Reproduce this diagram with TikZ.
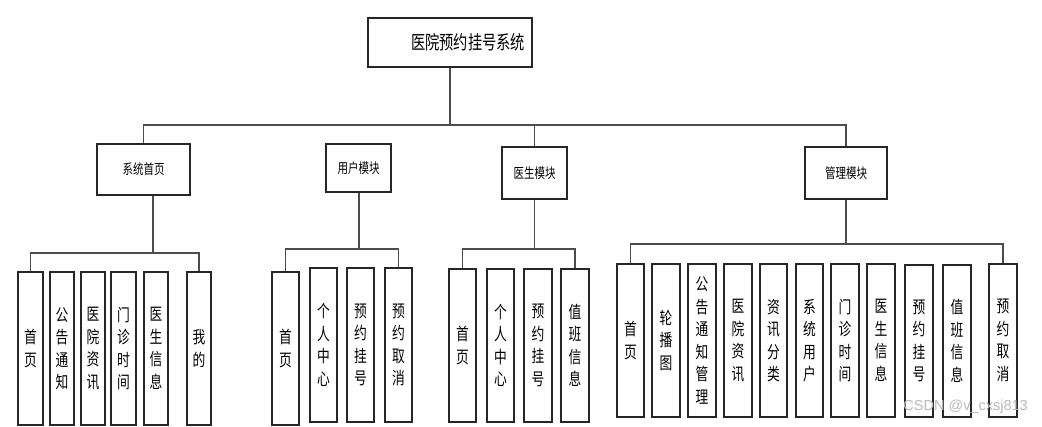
\documentclass[tikz,border=0pt]{standalone}
\usepackage{fontspec}
\setmainfont{Liberation Sans}
\newfontfamily\cjk[FakeStretch=0.75]{Noto Sans CJK SC}
\begin{document}
\begin{tikzpicture}[x=1pt,y=-1pt,
  box/.style={draw=black!85,line width=1.1pt,inner sep=0pt,fill=white},
  leaf/.style={box,minimum width=27pt,minimum height=153pt,align=center,font=\cjk\fontsize{17}{22.5}\selectfont},
  mid/.style={box,font=\cjk\fontsize{14}{16}\selectfont},
  conn/.style={draw=black!70,line width=1.1pt}]
\useasboundingbox (0,0) rectangle (1042,426);

% root
\node[box,minimum width=164pt,minimum height=49pt,text width=150pt,align=right,inner xsep=7pt,font=\cjk\fontsize{19}{21}\selectfont] (root) at (450,42.5) {医院预约挂号系统};

% level 2
\node[mid,minimum width=93pt,minimum height=51pt] (s1) at (143.5,169.5) {系统首页};
\node[mid,minimum width=65pt,minimum height=48pt] (s2) at (358.5,168) {用户模块};
\node[mid,minimum width=65pt,minimum height=52pt] (s3) at (534.5,173) {医生模块};
\node[mid,minimum width=82pt,minimum height=52pt] (s4) at (846,173) {管理模块};

% leaves of s1
\node[leaf,minimum width=25pt] (h1) at (30.5,348.5) {首\\页};
\node[leaf,minimum width=24pt] (h2) at (62,348.5) {公\\告\\通\\知};
\node[leaf,minimum width=24pt] (h3) at (93,348.5) {医\\院\\资\\讯};
\node[leaf,minimum width=25pt] (h4) at (123.5,348.5) {门\\诊\\时\\间};
\node[leaf,minimum width=24pt] (h5) at (156,348.5) {医\\生\\信\\息};
\node[leaf,minimum width=24pt] (h6) at (199,348.5) {我\\的};

% leaves of s2
\node[leaf] (u1) at (285.5,348.5) {首\\页};
\node[leaf,minimum height=154pt] (u2) at (323.5,345) {个\\人\\中\\心};
\node[leaf,minimum height=154pt] (u3) at (360.5,345) {预\\约\\挂\\号};
\node[leaf,minimum height=154pt] (u4) at (398.5,345) {预\\约\\取\\消};

% leaves of s3
\node[leaf] (d1) at (462.5,345.5) {首\\页};
\node[leaf] (d2) at (500.5,345.5) {个\\人\\中\\心};
\node[leaf,minimum width=28pt] (d3) at (538,345.5) {预\\约\\挂\\号};
\node[leaf,minimum width=28pt] (d4) at (575,345.5) {值\\班\\信\\息};

% leaves of s4
\node[leaf] (m1) at (630.5,340.5) {首\\页};
\node[leaf,minimum width=28pt] (m2) at (666,340.5) {轮\\播\\图};
\node[leaf,minimum width=28pt] (m3) at (702,340.5) {公\\告\\通\\知\\管\\理};
\node[leaf,minimum width=28pt] (m4) at (738,340.5) {医\\院\\资\\讯};
\node[leaf] (m5) at (773.5,340.5) {资\\讯\\分\\类};
\node[leaf] (m6) at (809.5,340.5) {系\\统\\用\\户};
\node[leaf,minimum width=28pt] (m7) at (845,340.5) {门\\诊\\时\\间};
\node[leaf,minimum width=28pt] (m8) at (881,340.5) {医\\生\\信\\息};
\node[leaf,minimum width=28pt,minimum height=152pt] (m9) at (919,341) {预\\约\\挂\\号};
\node[leaf,minimum width=28pt,minimum height=152pt] (m10) at (957,341) {值\\班\\信\\息};
\node[leaf,minimum width=28pt] (m11) at (1003,340.5) {预\\约\\取\\消};

% connectors top
\coordinate (bus) at (450,125);
\draw[conn] (root.south) -- (bus);
\draw[conn] (s1.north) |- (bus) -| (s4.north);
\draw[conn] (s3.north) -- (s3.north |- bus);

% connectors s1
\coordinate (b1) at (153,253);
\draw[conn] (s1.south -| b1) -- (b1);
\draw[conn] (h1.north) |- (b1) -| (h6.north);

% connectors s2
\coordinate (b2) at (359,249);
\draw[conn] (s2.south -| b2) -- (b2);
\draw[conn] (u1.north) |- (b2) -| (u4.north);

% connectors s3
\coordinate (b3) at (534.5,249);
\draw[conn] (s3.south) -- (b3);
\draw[conn] (d1.north) |- (b3) -| (d4.north);

% connectors s4
\coordinate (b4) at (846,244);
\draw[conn] (s4.south) -- (b4);
\draw[conn] (m1.north) |- (b4) -| (m11.north);

% watermark
\node[text=gray!55,font=\fontsize{14.5}{16}\selectfont,anchor=east,inner sep=0pt] (wm) at (1028,407) {CSDN @v\_cxsj813};
\end{tikzpicture}
\end{document}
